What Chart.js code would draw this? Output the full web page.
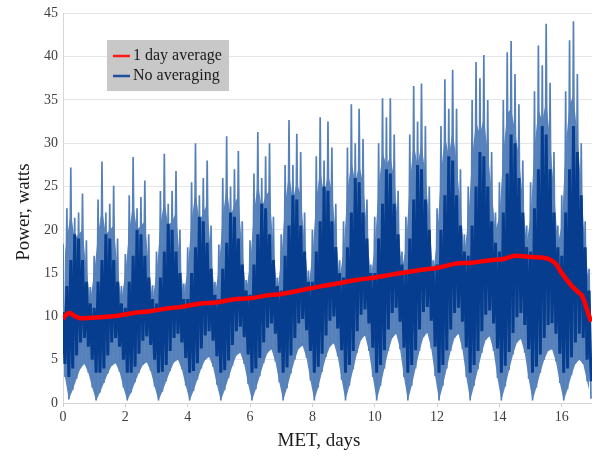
<!DOCTYPE html>
<html>
<head>
<meta charset="utf-8">
<style>
  html, body { margin: 0; padding: 0; background: #fff; }
  #powerChart { display: block; }
</style>
</head>
<body>
<canvas id="powerChart" width="592" height="459"></canvas>
<script src="https://cdn.jsdelivr.net/npm/chart.js@4.4.1/dist/chart.umd.min.js"></script>
<script>
// raw power is sampled every 1/8 day from MET 0 (one row per day below)
var samplesPerDay = 8;

// top of the orbit-to-orbit swing (spike tips), watts
var upperWatts = [
  18.4, 22.5, 27.2, 21.4, 22.0, 24.2, 18.8, 13.4,
  17.0, 23.5, 27.9, 22.0, 23.0, 25.1, 19.0, 13.5,
  17.2, 24.0, 28.4, 22.5, 23.8, 25.7, 19.5, 13.6,
  17.5, 24.5, 28.8, 23.0, 24.5, 26.8, 20.0, 13.8,
  18.0, 25.5, 30.0, 24.0, 26.0, 28.0, 20.5, 14.0,
  18.3, 26.0, 30.8, 25.0, 27.0, 29.1, 21.0, 14.2,
  18.8, 26.5, 31.3, 26.0, 28.5, 30.0, 21.5, 14.5,
  19.5, 27.5, 32.7, 27.5, 31.1, 29.0, 22.0, 15.3,
  20.0, 28.5, 33.0, 28.0, 32.5, 29.5, 23.0, 16.5,
  21.0, 29.5, 34.5, 30.0, 34.0, 30.5, 23.5, 16.0,
  21.5, 30.0, 35.2, 33.0, 35.2, 31.0, 24.5, 17.5,
  21.5, 31.0, 36.6, 32.5, 36.9, 32.0, 25.0, 16.5,
  22.5, 32.0, 37.4, 34.0, 38.5, 34.0, 27.0, 19.5,
  25.0, 35.0, 39.4, 37.5, 40.2, 35.0, 29.0, 22.0,
  25.5, 35.0, 40.5, 41.8, 38.0, 34.5, 28.0, 20.5,
  25.5, 36.0, 41.3, 39.0, 43.8, 37.0, 29.0, 20.5,
  24.0, 36.0, 41.9, 44.1, 38.0, 30.0, 21.0, 15.5
];
// level below which the traces are solid (bottom of the white slits)
var solidTop = [
  15.5, 19.0, 22.0, 19.0, 19.5, 20.0, 15.5, 12.0,
  15.0, 19.5, 22.5, 19.5, 20.0, 20.5, 15.5, 12.0,
  15.0, 20.0, 23.0, 20.0, 20.5, 21.0, 16.0, 12.0,
  15.0, 20.5, 23.5, 20.5, 21.0, 22.0, 16.5, 12.5,
  15.5, 21.0, 24.5, 21.0, 22.0, 23.0, 17.0, 12.5,
  15.5, 21.5, 25.0, 21.5, 23.0, 24.0, 17.5, 13.0,
  16.0, 22.0, 25.5, 22.5, 24.0, 24.5, 18.0, 13.0,
  16.5, 23.0, 26.5, 23.5, 25.5, 24.0, 18.5, 13.5,
  17.0, 23.5, 27.0, 24.0, 26.5, 24.5, 19.5, 14.5,
  17.5, 24.5, 28.0, 25.5, 27.5, 25.5, 20.0, 14.5,
  18.0, 25.0, 29.0, 27.5, 28.5, 26.0, 20.5, 15.5,
  18.0, 25.5, 30.0, 27.5, 30.0, 26.5, 21.0, 15.0,
  19.0, 26.5, 31.0, 28.5, 31.5, 28.0, 22.5, 17.5,
  21.0, 28.5, 32.5, 31.0, 33.0, 29.0, 24.5, 20.0,
  21.5, 29.0, 33.5, 34.0, 31.5, 28.5, 23.5, 18.5,
  21.5, 29.5, 34.0, 32.5, 35.0, 30.5, 24.5, 18.5,
  20.5, 29.5, 34.5, 35.5, 31.0, 25.0, 18.0, 13.5
];
// bottom of the swing, watts
var lowerWatts = [
  3.0, 0.4, 1.5, 2.8, 4.0, 4.5, 3.5, 1.8,
  0.3, 1.2, 2.3, 3.4, 4.3, 4.6, 3.6, 1.8,
  0.3, 1.2, 2.4, 3.5, 4.4, 4.7, 3.7, 1.9,
  0.3, 1.3, 2.5, 3.7, 4.7, 5.0, 3.9, 2.0,
  0.3, 1.4, 2.7, 4.0, 5.0, 5.3, 4.2, 2.1,
  0.3, 1.5, 2.9, 4.3, 5.5, 5.8, 4.5, 2.2,
  0.3, 1.6, 3.1, 4.6, 5.8, 6.2, 4.8, 2.4,
  0.3, 1.7, 3.4, 5.0, 6.3, 6.6, 5.2, 2.6,
  0.3, 1.8, 3.6, 5.3, 6.5, 6.9, 5.4, 2.7,
  0.3, 2.0, 3.9, 5.8, 7.3, 7.8, 6.0, 3.0,
  0.3, 2.0, 4.0, 6.0, 7.5, 8.0, 6.2, 3.0,
  0.3, 2.0, 4.0, 6.0, 7.6, 8.1, 6.3, 3.1,
  0.3, 2.0, 4.0, 6.0, 7.5, 8.0, 6.2, 3.0,
  0.3, 2.0, 3.9, 5.8, 7.3, 7.7, 6.0, 2.9,
  0.3, 1.9, 3.8, 5.6, 7.0, 7.4, 5.8, 2.8,
  0.3, 1.8, 3.5, 5.0, 6.0, 6.2, 4.8, 2.3,
  0.3, 1.6, 3.2, 4.5, 5.0, 4.5, 2.5, 0.5
];
// where most orbits sit (the dense dark band), high and low side
var denseHigh = [
  10.5, 13.5, 16.5, 19.5, 19.0, 16.5, 14.0, 11.5,
  11.0, 14.0, 16.5, 19.5, 19.0, 16.5, 14.0, 11.5,
  11.0, 14.0, 17.0, 20.0, 19.5, 17.0, 14.5, 12.0,
  11.5, 14.5, 17.5, 20.7, 20.0, 17.5, 15.0, 12.0,
  12.0, 15.0, 18.0, 21.5, 21.0, 18.5, 15.5, 12.5,
  12.0, 15.5, 18.5, 22.0, 21.5, 19.0, 16.0, 13.0,
  12.5, 16.0, 19.5, 23.0, 22.5, 19.5, 16.5, 13.5,
  13.0, 17.0, 20.5, 24.0, 23.5, 20.5, 17.5, 14.0,
  14.0, 17.5, 21.0, 25.0, 24.5, 21.0, 18.0, 15.0,
  14.5, 18.0, 22.0, 26.0, 25.5, 22.0, 19.0, 15.0,
  15.0, 19.0, 23.0, 27.0, 26.5, 23.0, 19.5, 16.0,
  15.0, 19.0, 23.5, 27.5, 27.0, 23.5, 20.0, 15.5,
  16.0, 20.0, 24.0, 28.5, 28.0, 24.0, 20.5, 17.5,
  17.0, 20.5, 25.0, 29.0, 28.5, 25.0, 21.0, 18.5,
  17.5, 22.0, 26.5, 31.0, 30.0, 26.0, 22.0, 18.0,
  17.5, 22.5, 27.0, 32.0, 31.0, 27.0, 22.0, 18.0,
  17.0, 22.0, 27.0, 32.0, 29.0, 24.0, 18.0, 13.0
];
var denseLow = [
  4.5, 3.0, 4.0, 5.5, 7.0, 7.5, 6.5, 5.0,
  3.5, 3.5, 4.0, 5.5, 7.0, 7.5, 6.5, 5.0,
  3.5, 3.5, 4.2, 5.7, 7.2, 7.7, 6.7, 5.0,
  3.5, 3.6, 4.4, 6.0, 7.5, 8.0, 7.0, 5.2,
  3.5, 3.7, 4.6, 6.3, 7.8, 8.3, 7.2, 5.4,
  3.5, 3.8, 4.9, 6.7, 8.3, 8.8, 7.6, 5.6,
  3.5, 4.0, 5.2, 7.0, 8.7, 9.2, 8.0, 5.8,
  3.5, 4.1, 5.5, 7.5, 9.2, 9.7, 8.4, 6.0,
  3.5, 4.2, 5.7, 7.8, 9.5, 10.0, 8.6, 6.1,
  3.5, 4.4, 6.0, 8.3, 10.2, 10.8, 9.2, 6.4,
  3.5, 4.4, 6.1, 8.5, 10.4, 11.0, 9.4, 6.4,
  3.5, 4.4, 6.1, 8.5, 10.5, 11.1, 9.5, 6.5,
  3.5, 4.4, 6.1, 8.5, 10.4, 11.0, 9.4, 6.4,
  3.5, 4.4, 6.0, 8.3, 10.2, 10.7, 9.2, 6.3,
  3.5, 4.3, 5.9, 8.1, 9.9, 10.4, 9.0, 6.2,
  3.5, 4.2, 5.6, 7.5, 9.0, 9.2, 8.0, 5.7,
  3.5, 4.0, 5.3, 7.0, 8.0, 7.5, 5.0, 2.5
];

// 1 day running average
var avgDays  = [0, 0.1, 0.22, 0.35, 0.55, 1.2, 1.8, 2.25, 2.8, 3.3, 3.8, 4.4, 4.9, 5.45, 6.0, 6.5, 7.0, 7.6,
                8.3, 8.8, 9.4, 10.0, 10.5, 11.0, 11.5, 12.0, 12.6, 13.1, 13.7, 14.1, 14.5, 14.9, 15.35,
                15.6, 15.8, 16.0, 16.3, 16.5, 16.65, 16.8, 16.88, 16.95];
var avgWatts = [9.7, 10.2, 10.4, 10.1, 9.8, 9.9, 10.1, 10.4, 10.6, 10.9, 11.1, 11.5, 11.6, 11.95, 12.1, 12.4, 12.6, 13.0,
                13.5, 13.8, 14.2, 14.5, 14.8, 15.1, 15.4, 15.6, 16.1, 16.2, 16.5, 16.6, 17.0, 16.9, 16.8,
                16.6, 16.1, 15.0, 13.6, 12.9, 12.4, 10.9, 10.0, 9.4];

var xTicks = [0, 2, 4, 6, 8, 10, 12, 14, 16];
var yTicks = [0, 5, 10, 15, 20, 25, 30, 35, 40, 45];

var step = 1 / samplesPerDay;

// values placed on the sample times (offset 0 = tops, 0.5 = bottoms)
function atSamples(values, offset) {
  return values.map(function (v, i) { return { x: (i + offset) * step, y: v }; });
}

// each sample becomes an up stroke and a down stroke
function swing(highs, lows) {
  var pts = [];
  for (var i = 0; i < highs.length; i++) {
    pts.push({ x: i * step, y: highs[i] });
    pts.push({ x: (i + 0.5) * step, y: lows[i] });
  }
  return pts;
}

var serif = '"Liberation Serif", "Times New Roman", serif';

// legend box and axis titles
var chartText = {
  id: 'chartText',
  afterDraw: function (chart) {
    var c = chart.ctx;
    var sets = chart.data.datasets;
    c.save();
    c.fillStyle = '#c8c8c8';
    c.fillRect(107, 40, 122, 51);
    c.font = '16px ' + serif;
    c.textBaseline = 'middle';
    [[sets[0], 56], [sets[2], 76]].forEach(function (row) {
      c.strokeStyle = row[0].legendColor;
      c.lineWidth = 2.5;
      c.beginPath();
      c.moveTo(113, row[1]);
      c.lineTo(130, row[1]);
      c.stroke();
      c.fillStyle = '#1a1a1a';
      c.fillText(row[0].label, 133, row[1]);
    });

    c.font = '19px ' + serif;
    c.fillStyle = '#1a1a1a';
    c.textAlign = 'center';
    c.fillText('MET, days', 319, 441);
    c.translate(24, 212);
    c.rotate(-Math.PI / 2);
    c.fillText('Power, watts', 0, 0);
    c.restore();
  }
};

document.addEventListener('DOMContentLoaded', function () {
  var ctx = document.getElementById('powerChart').getContext('2d');
  Chart.defaults.font.family = serif;

  new Chart(ctx, {
    type: 'line',
    data: {
      datasets: [{
        label: '1 day average',
        data: avgDays.map(function (d, i) { return { x: d, y: avgWatts[i] }; }),
        borderColor: '#ff0000',
        legendColor: '#ff1a1a',
        borderWidth: 4.5,
        tension: 0.3,
        pointRadius: 0,
        order: 0
      }, {
        label: '',
        data: swing(denseHigh, denseLow),
        borderColor: '#063d8e',
        borderWidth: 3,
        borderJoinStyle: 'bevel',
        tension: 0,
        pointRadius: 0,
        order: 1
      }, {
        label: 'No averaging',
        data: swing(upperWatts, lowerWatts),
        borderColor: '#5580b9',
        legendColor: '#1f4f9c',
        borderWidth: 1.7,
        borderJoinStyle: 'bevel',
        tension: 0,
        pointRadius: 0,
        order: 2
      }, {
        label: '',
        data: atSamples(solidTop, 0),
        borderWidth: 0,
        backgroundColor: '#5a84bc',
        fill: 4,
        tension: 0,
        pointRadius: 0,
        order: 3
      }, {
        label: '',
        data: atSamples(lowerWatts, 0.5),
        borderWidth: 0,
        tension: 0,
        pointRadius: 0,
        order: 4
      }]
    },
    options: {
      responsive: false,
      animation: false,
      layout: { padding: { top: 12, right: 0, left: 0, bottom: 0 } },
      plugins: {
        legend: { display: false },
        tooltip: { enabled: false }
      },
      scales: {
        x: {
          type: 'linear',
          min: 0,
          max: 16.97,
          afterBuildTicks: function (s) { s.ticks = xTicks.map(function (v) { return { value: v }; }); },
          afterFit: function (s) { s.height = 56; },
          grid: { drawOnChartArea: false, tickLength: 4, color: '#cfcfcf' },
          border: { color: '#d6d6d6' },
          ticks: { color: '#404040', font: { size: 14 }, padding: 2, maxRotation: 0, autoSkip: false }
        },
        y: {
          min: 0,
          max: 45,
          afterBuildTicks: function (s) { s.ticks = yTicks.map(function (v) { return { value: v }; }); },
          afterFit: function (s) { s.width = 63; },
          grid: { color: '#e6e6e6', drawTicks: false },
          border: { color: '#d6d6d6' },
          ticks: { color: '#404040', font: { size: 14 }, padding: 5 }
        }
      }
    },
    plugins: [chartText]
  });
});
</script>
</body>
</html>
